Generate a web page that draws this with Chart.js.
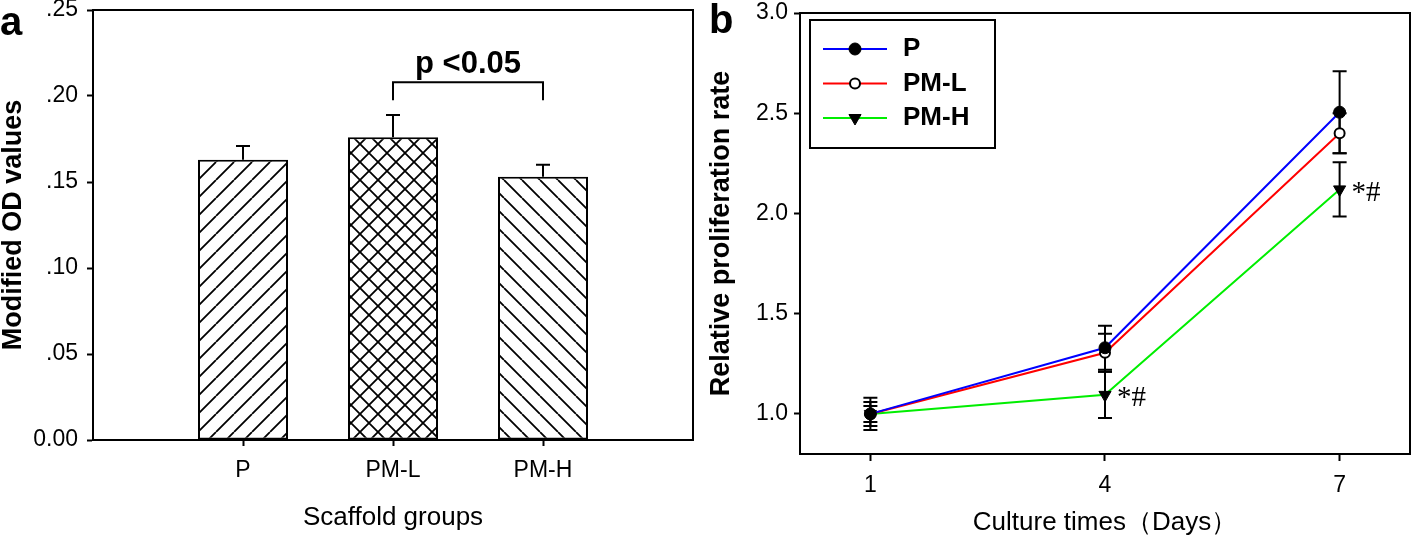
<!DOCTYPE html>
<html>
<head>
<meta charset="utf-8">
<script src="https://cdn.jsdelivr.net/npm/chart.js@4.4.1/dist/chart.umd.min.js"></script>
<style>
body { margin: 0; background: #fff; }
#wrap { position: relative; width: 1418px; height: 538px; overflow: hidden; font-family: "Liberation Sans", Arial, sans-serif; }
#boxA { position: absolute; left: 0; top: 0; width: 705px; height: 538px; }
#boxB { position: absolute; left: 705px; top: 0; width: 713px; height: 538px; }
.panel { position: absolute; font-weight: bold; font-size: 40px; line-height: 40px; color: #000; }
</style>
</head>
<body>
<div id="wrap">
  <div id="boxA"><canvas id="chartA"></canvas></div>
  <div id="boxB"><canvas id="chartB"></canvas></div>
  <div class="panel" style="left:0px;top:1px">a</div>
  <div class="panel" style="left:709px;top:-1px">b</div>
</div>
<script>
// panel a data
const groups = ['P', 'PM-L', 'PM-H'];
const odMeans = [0.163, 0.176, 0.153];
const odErrors = [0.008, 0.013, 0.007];
const odTicks = [0, 0.05, 0.10, 0.15, 0.20, 0.25];
const sigPair = ['PM-L', 'PM-H'];
const sigText = 'p <0.05';
const sigLevel = 0.208;   // bracket height (data units)
const sigFoot = 0.1975;

// panel b data
const days = [1, 4, 7];
const rateP = [1.00, 1.33, 2.505];
const ratePML = [1.00, 1.305, 2.40];
const ratePMH = [1.00, 1.095, 2.12];
const errP = [0.08, 0.11, 0.205];
const errPML = [0.06, 0.095, 0.10];
const errPMH = [0.04, 0.115, 0.135];
const rateTicks = [1.0, 1.5, 2.0, 2.5, 3.0];
const pmhMarks = ['', '*#', '*#'];

const FONT = '"Liberation Sans", Arial, sans-serif';
Chart.defaults.font.family = FONT;
Chart.defaults.color = '#000';

function hatch(kind) {
    const s = 18;
    const c = document.createElement('canvas');
    c.width = s; c.height = s;
    const g = c.getContext('2d');
    g.fillStyle = '#fff';
    g.fillRect(0, 0, s, s);
    g.strokeStyle = '#000';
    g.lineWidth = 1.8;
    g.beginPath();
    for (let k of [-s, 0, s]) {
        if (kind == 'fwd' || kind == 'cross') { g.moveTo(k, s); g.lineTo(k + s, 0); }
        if (kind == 'back' || kind == 'cross') { g.moveTo(k, 0); g.lineTo(k + s, s); }
    }
    g.stroke();
    return g.createPattern(c, 'repeat');
}

const frame = {
    id: 'frame',
    afterDraw(chart) {
        const {ctx, chartArea: a} = chart;
        ctx.save();
        ctx.strokeStyle = '#000';
        ctx.lineWidth = 2;
        ctx.strokeRect(a.left, a.top, a.right - a.left, a.bottom - a.top);
        ctx.restore();
    }
};

const barExtras = {
    id: 'barExtras',
    afterDatasetsDraw(chart) {
        const {ctx, scales: {x, y}} = chart;
        const labels = chart.data.labels;
        ctx.save();
        ctx.strokeStyle = '#000';
        ctx.lineWidth = 2;
        odMeans.forEach((m, i) => {
            const px = x.getPixelForValue(labels.indexOf(groups[i]));
            const top = y.getPixelForValue(m + odErrors[i]);
            ctx.beginPath();
            ctx.moveTo(px, y.getPixelForValue(m));
            ctx.lineTo(px, top);
            ctx.moveTo(px - 7, top);
            ctx.lineTo(px + 7, top);
            ctx.stroke();
        });
        // significance bracket
        const xa = x.getPixelForValue(labels.indexOf(sigPair[0]));
        const xb = x.getPixelForValue(labels.indexOf(sigPair[1]));
        const yl = y.getPixelForValue(sigLevel);
        const yf = y.getPixelForValue(sigFoot);
        ctx.beginPath();
        ctx.moveTo(xa, yf);
        ctx.lineTo(xa, yl);
        ctx.lineTo(xb, yl);
        ctx.lineTo(xb, yf);
        ctx.stroke();
        ctx.fillStyle = '#000';
        ctx.font = 'bold 31px ' + FONT;
        ctx.textAlign = 'center';
        ctx.textBaseline = 'alphabetic';
        ctx.fillText(sigText, (xa + xb) / 2, yl - 9);
        ctx.restore();
    }
};

const paddedLabels = [''].concat(groups, ['']);
const paddedValues = [null].concat(odMeans, [null]);

new Chart(document.getElementById('chartA'), {
    type: 'bar',
    data: {
        labels: paddedLabels,
        datasets: [{
            data: paddedValues,
            backgroundColor: ['#fff', hatch('fwd'), hatch('cross'), hatch('back'), '#fff'],
            borderColor: '#000',
            borderWidth: 2,
            borderSkipped: false,
            categoryPercentage: 0.6,
            barPercentage: 1
        }]
    },
    options: {
        responsive: true,
        maintainAspectRatio: false,
        animation: false,
        devicePixelRatio: 1,
        layout: { padding: { top: 10, right: 12, left: 0, bottom: 0 } },
        plugins: { legend: { display: false }, tooltip: { enabled: false } },
        scales: {
            x: {
                offset: false,
                grid: {
                    offset: false,
                    drawOnChartArea: false,
                    tickLength: 6,
                    tickWidth: 2,
                    tickColor: c => (c.tick && c.tick.label) ? '#000' : 'rgba(0,0,0,0)'
                },
                border: { color: '#000', width: 2 },
                ticks: { font: { size: 23 }, padding: 11, maxRotation: 0, autoSkip: false },
                title: { display: true, text: 'Scaffold groups', font: { size: 26 }, padding: { top: 0, bottom: 5 } },
                afterFit: s => { s.height = 98; s.paddingLeft = 0; s.paddingRight = 0; }
            },
            y: {
                min: 0,
                max: 0.25,
                afterBuildTicks: s => { s.ticks = odTicks.map(v => ({ value: v })); },
                grid: { drawOnChartArea: false, tickLength: 6, tickWidth: 2, tickColor: '#000' },
                border: { color: '#000', width: 2 },
                ticks: {
                    font: { size: 23 },
                    padding: 9,
                    callback: v => v === 0 ? '0.00' : v.toFixed(2).slice(1)
                },
                title: { display: true, text: 'Modified OD values', font: { size: 27, weight: 'bold', lineHeight: 1 }, padding: { top: 0, bottom: 0 } },
                afterFit: s => { s.width = 93; s.paddingTop = 0; s.paddingBottom = 0; }
            }
        }
    },
    plugins: [barExtras, frame]
});

// panel b
const errSets = [errP, errPML, errPMH];

const lineErrors = {
    id: 'lineErrors',
    beforeDatasetsDraw(chart) {
        const {ctx, scales: {x, y}} = chart;
        ctx.save();
        ctx.strokeStyle = '#000';
        ctx.lineWidth = 2;
        chart.data.datasets.forEach((ds, d) => {
            ds.data.forEach((p, i) => {
                const px = x.getPixelForValue(p.x);
                const lo = y.getPixelForValue(p.y - errSets[d][i]);
                const hi = y.getPixelForValue(p.y + errSets[d][i]);
                ctx.beginPath();
                ctx.moveTo(px, lo); ctx.lineTo(px, hi);
                ctx.moveTo(px - 7, lo); ctx.lineTo(px + 7, lo);
                ctx.moveTo(px - 7, hi); ctx.lineTo(px + 7, hi);
                ctx.stroke();
            });
        });
        ctx.restore();
    },
    afterDatasetsDraw(chart) {
        const {ctx, scales: {x, y}} = chart;
        ctx.save();
        ctx.fillStyle = '#000';
        ctx.font = '29px "Liberation Serif", serif';
        ctx.textAlign = 'left';
        ctx.textBaseline = 'middle';
        pmhMarks.forEach((m, i) => {
            if (!m) return;
            ctx.fillText(m, x.getPixelForValue(days[i]) + 12, y.getPixelForValue(ratePMH[i]) + 4);
        });
        ctx.restore();
    }
};

const boxLegend = {
    id: 'boxLegend',
    afterDraw(chart) {
        const {ctx, chartArea: a} = chart;
        const bx = a.left + 10, by = a.top + 7, bw = 185, bh = 128;
        ctx.save();
        ctx.fillStyle = '#fff';
        ctx.fillRect(bx, by, bw, bh);
        ctx.strokeStyle = '#000';
        ctx.lineWidth = 2;
        ctx.strokeRect(bx, by, bw, bh);
        chart.data.datasets.forEach((ds, i) => {
            const yy = by + 29 + i * 34.5;
            ctx.strokeStyle = ds.borderColor;
            ctx.lineWidth = 2;
            ctx.beginPath();
            ctx.moveTo(bx + 13, yy);
            ctx.lineTo(bx + 77, yy);
            ctx.stroke();
            ctx.fillStyle = ds.pointBackgroundColor;
            ctx.strokeStyle = ds.pointBorderColor;
            ctx.lineWidth = ds.pointBorderWidth;
            Chart.helpers.drawPoint(ctx, {
                pointStyle: ds.pointStyle,
                radius: ds.pointRadius,
                rotation: ds.pointRotation || 0,
                borderWidth: ds.pointBorderWidth
            }, bx + 45, yy);
            ctx.fillStyle = '#000';
            ctx.font = 'bold 26px ' + FONT;
            ctx.textAlign = 'left';
            ctx.textBaseline = 'middle';
            ctx.fillText(ds.label, bx + 93, yy);
        });
        ctx.restore();
    }
};

function pts(vals) {
    return days.map((d, i) => ({ x: d, y: vals[i] }));
}

new Chart(document.getElementById('chartB'), {
    type: 'line',
    data: {
        datasets: [{
            label: 'P',
            data: pts(rateP),
            borderColor: '#0000ff',
            borderWidth: 2,
            pointStyle: 'circle',
            pointRadius: 6,
            pointBackgroundColor: '#000',
            pointBorderColor: '#000',
            pointBorderWidth: 1
        }, {
            label: 'PM-L',
            data: pts(ratePML),
            borderColor: '#ff0000',
            borderWidth: 2,
            pointStyle: 'circle',
            pointRadius: 5,
            pointBackgroundColor: '#fff',
            pointBorderColor: '#000',
            pointBorderWidth: 2
        }, {
            label: 'PM-H',
            data: pts(ratePMH),
            borderColor: '#00ee00',
            borderWidth: 2,
            pointStyle: 'triangle',
            pointRotation: 180,
            pointRadius: 7,
            pointBackgroundColor: '#000',
            pointBorderColor: '#000',
            pointBorderWidth: 1
        }]
    },
    options: {
        responsive: true,
        maintainAspectRatio: false,
        animation: false,
        devicePixelRatio: 1,
        layout: { padding: { top: 13, right: 3, left: 0, bottom: 0 } },
        plugins: { legend: { display: false }, tooltip: { enabled: false } },
        elements: { line: { tension: 0 } },
        scales: {
            x: {
                type: 'linear',
                min: 0.1,
                max: 7.9,
                afterBuildTicks: s => { s.ticks = days.map(v => ({ value: v })); },
                grid: { drawOnChartArea: false, tickLength: 7, tickWidth: 2, tickColor: '#000' },
                border: { color: '#000', width: 2 },
                ticks: { font: { size: 23 }, padding: 11, maxRotation: 0 },
                title: { display: true, text: 'Culture times（Days）', font: { size: 26 }, padding: { top: 0, bottom: 0 } },
                afterFit: s => { s.height = 84; s.paddingLeft = 0; s.paddingRight = 0; }
            },
            y: {
                min: 0.8,
                max: 3.0,
                afterBuildTicks: s => { s.ticks = rateTicks.map(v => ({ value: v })); },
                grid: { drawOnChartArea: false, tickLength: 6, tickWidth: 2, tickColor: '#000' },
                border: { color: '#000', width: 2 },
                ticks: { font: { size: 23 }, padding: 6, callback: v => v.toFixed(1) },
                title: { display: true, text: 'Relative proliferation rate', font: { size: 27, weight: 'bold', lineHeight: 1 }, padding: { top: 3, bottom: 0 } },
                afterFit: s => { s.width = 95; s.paddingTop = 0; s.paddingBottom = 0; }
            }
        }
    },
    plugins: [lineErrors, boxLegend, frame]
});
</script>
</body>
</html>
